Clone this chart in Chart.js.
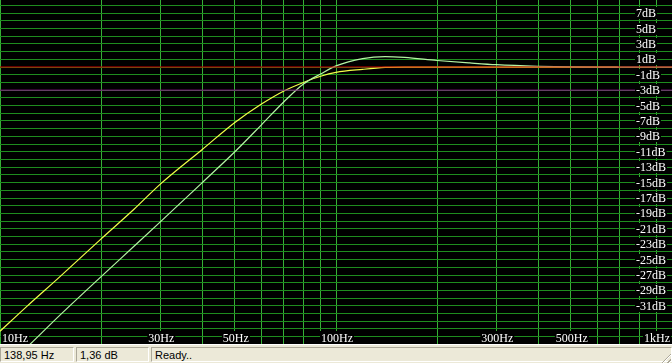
<!DOCTYPE html>
<html>
<head>
<meta charset="utf-8">
<script src="https://cdn.jsdelivr.net/npm/chart.js@4/dist/chart.umd.min.js"></script>
<style>
    html, body { margin: 0; padding: 0; background: #ece9d8; overflow: hidden; }
    #wrap { position: relative; width: 672px; height: 344px; background: #000; }
    #statusbar { position: relative; width: 672px; height: 19px; background: #ece9d8; border-top: 1px solid #fff;
                 font: 11px "Liberation Sans", Arial, sans-serif; color: #000; }
    .panel { position: absolute; top: 2px; height: 15px; line-height: 15px; padding-left: 3px; box-sizing: border-box;
             border-top: 1px solid #aca899; border-left: 1px solid #aca899; border-bottom: 1px solid #fff; border-right: 1px solid #fff; }
    #grip { position: absolute; right: 1px; bottom: 1px; width: 12px; height: 12px;
            background: repeating-linear-gradient(135deg, transparent 0 2px, #aca899 2px 3px, #fff 3px 4px);
            clip-path: polygon(100% 0, 100% 100%, 0 100%); }
</style>
</head>
<body>
<div id="wrap"><canvas id="responseChart" width="672" height="344"></canvas></div>
<div id="statusbar">
    <div class="panel" style="left:0; width:74px;">138,95 Hz</div>
    <div class="panel" style="left:76px; width:73px;">1,36 dB</div>
    <div class="panel" style="left:151px; width:521px;">Ready..</div>
    <div id="grip"></div>
</div>
<script>
// frequency points (Hz) used by both curves
const freqs = [10, 12, 15, 20, 25, 30, 40, 50, 60, 70, 80, 90, 100, 120, 140, 160, 200, 250, 300, 400, 500, 600, 690, 800, 1000];

// yellow curve, stops at ~690 Hz
const yellowDb = [-34.3, -31.1, -27.3, -22.3, -18.5, -15.2, -10.7, -7.2, -4.8, -3.1, -2.0, -1.2, -0.7, -0.3, -0.05, 0, 0, 0, 0, 0, 0, 0, 0];

// pale green curve with the small bump around 140 Hz
const greenDb = [-39.4, -36.4, -32.3, -27.2, -23.3, -20.1, -15.0, -11.0, -7.5, -4.5, -2.2, -0.9, 0.15, 1.1, 1.36, 1.25, 0.85, 0.53, 0.3, 0.1, 0.02, 0, 0, 0, 0];

// reference levels: 0 dB (red) and -3 dB (purple)
const refLevels = [0, -3];

// grid lines
const xGrid = [10, 20, 30, 40, 50, 60, 70, 80, 90, 100, 200, 300, 400, 500, 600, 700, 800, 900, 1000];
const yGrid = [];
for (let v = -35; v <= 8; v++) yGrid.push(v);

// tick labels
const xLabelValues = [10, 30, 50, 100, 300, 500, 1000];
const xLabels = ['10Hz', '30Hz', '50Hz', '100Hz', '300Hz', '500Hz', '1kHz'];
const yLabelValues = [7, 5, 3, 1, -1, -3, -5, -7, -9, -11, -13, -15, -17, -19, -21, -23, -25, -27, -29, -31];
const yLabels = yLabelValues.map(v => v + 'dB');

function toPoints(values) {
    return values.map((v, i) => ({ x: freqs[i], y: v }));
}

function refLine(level) {
    return [{ x: 10, y: level }, { x: 1000, y: level }];
}

// labels are drawn with an opaque black background, like the original
const labelPlugin = {
    id: 'labels',
    afterDraw(chart) {
        const ctx = chart.ctx;
        const xs = chart.scales.x;
        const ys = chart.scales.y;
        ctx.save();
        ctx.font = '12px "Liberation Serif", "Times New Roman", serif';
        ctx.textBaseline = 'alphabetic';

        yLabelValues.forEach((v, i) => {
            const y = Math.round(ys.getPixelForValue(v));
            const w = ctx.measureText(yLabels[i]).width;
            ctx.fillStyle = '#000';
            ctx.fillRect(635, y - 6, w + 2, 12);
            ctx.fillStyle = '#fff';
            ctx.fillText(yLabels[i], 636, y + 4);
        });

        xLabelValues.forEach((v, i) => {
            const w = ctx.measureText(xLabels[i]).width;
            let x = xs.getPixelForValue(v) + 1 - w / 2;
            if (i === 0) x = 2;
            if (i === xLabelValues.length - 1) x = 670 - w;
            ctx.fillStyle = '#000';
            ctx.fillRect(x - 1, 331, w + 2, 13);
            ctx.fillStyle = '#fff';
            ctx.fillText(xLabels[i], x, 342);
        });
        ctx.restore();
    }
};

const ctx = document.getElementById('responseChart').getContext('2d');

new Chart(ctx, {
    type: 'line',
    data: {
        datasets: [
            {
                data: refLine(refLevels[1]),
                borderColor: '#8c148c',
                borderWidth: 1,
                pointRadius: 0
            },
            {
                data: refLine(refLevels[0]),
                borderColor: '#d20000',
                borderWidth: 1,
                pointRadius: 0
            },
            {
                data: toPoints(greenDb),
                borderColor: '#b4f4a4',
                borderWidth: 1.2,
                pointRadius: 0,
                cubicInterpolationMode: 'monotone'
            },
            {
                data: toPoints(yellowDb),
                borderColor: '#f2ff48',
                borderWidth: 1.2,
                pointRadius: 0,
                cubicInterpolationMode: 'monotone'
            }
        ]
    },
    options: {
        responsive: false,
        animation: false,
        events: [],
        layout: { padding: 0 },
        plugins: {
            legend: { display: false },
            tooltip: { enabled: false }
        },
        scales: {
            x: {
                type: 'logarithmic',
                min: 10,
                max: 1000,
                afterBuildTicks: scale => { scale.ticks = xGrid.map(v => ({ value: v })); },
                ticks: { display: false },
                grid: { color: '#36ae36', lineWidth: 1, drawTicks: false },
                border: { display: false }
            },
            y: {
                type: 'linear',
                min: -35.95,
                max: 8.7,
                afterBuildTicks: scale => { scale.ticks = yGrid.map(v => ({ value: v })); },
                ticks: { display: false },
                grid: { color: '#1e8c1e', lineWidth: 1, drawTicks: false },
                border: { display: false }
            }
        }
    },
    plugins: [labelPlugin]
});
</script>
</body>
</html>
